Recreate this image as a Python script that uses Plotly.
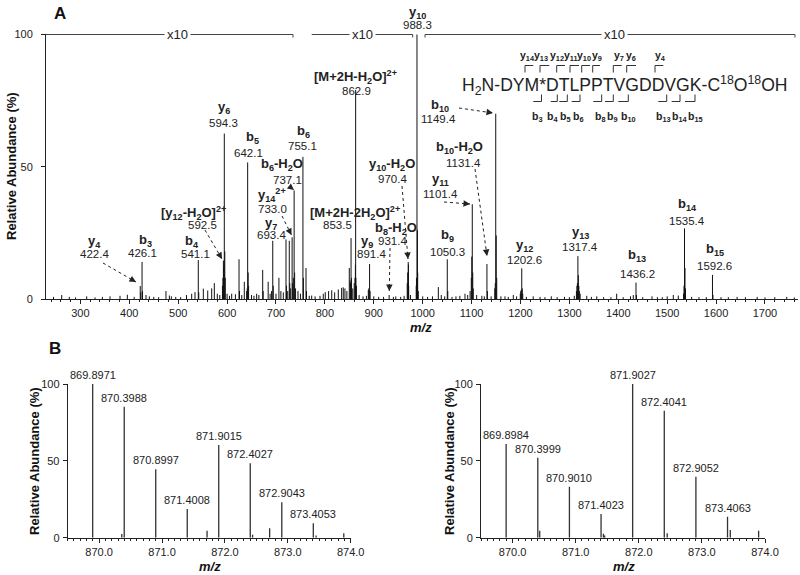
import plotly.graph_objects as go

# ---------------- DATA ----------------
# Panel A: MS/MS spectrum (m/z, displayed relative abundance %)
A_MZ = [245, 261.8, 277.3, 290, 312.9, 330, 345, 360.6, 381, 396, 410,
        422.4, 423.4, 426.1, 427.1, 434.2, 441, 450, 460, 475, 482, 486, 495, 505, 517, 527.6, 534.4,
        541.1, 542.1, 551.4, 560.4, 568.5, 573.9, 580, 585,
        590.5, 591.5, 592.5, 593.3, 594.3, 595.3, 596.3, 600, 605, 609.4, 617, 624.4, 625.4, 630,
        635.2, 640, 641.1, 642.1, 643.1, 644, 650, 655, 660.5, 665, 672.8, 673.8, 684, 688, 691,
        693.4, 694.4, 700, 706, 710, 715, 720.5, 721.5, 724, 727.2, 728.2, 730, 733.0, 734, 735.5,
        737.1, 738.1, 740, 745, 750, 755.1, 756.1, 761.4, 762.4, 768, 773, 780, 790, 796.7, 800.8,
        807.6, 814, 820, 827.4, 834.2, 837.6, 841, 845, 849.9, 851.5, 852.5, 853.5, 854.5, 857, 860,
        861.5, 862.4, 862.9, 863.4, 864.5, 870, 878, 885, 888.8, 889.8, 891.4, 892.4, 900, 910, 920,
        931.4, 940, 945, 955, 962, 968.4, 969.4, 970.4, 970.9, 971.4, 975, 986.8, 987.3, 988.3,
        989.3, 989.8, 991, 1000, 1010, 1020, 1032, 1038, 1045, 1050.3, 1051.3, 1060, 1068, 1076,
        1086.5, 1092, 1097, 1099.4, 1100.4, 1101.4, 1102.4, 1103.4, 1110.4, 1121, 1126, 1131.4,
        1132.4, 1140, 1147.4, 1148.4, 1149.4, 1150.4, 1151.4, 1160, 1168.3, 1175, 1185.3, 1192,
        1199.6, 1200.6, 1201.6, 1202.6, 1203.6, 1204.6, 1212, 1226, 1240, 1250, 1263, 1275, 1290,
        1300, 1310, 1314.4, 1315.4, 1316.4, 1317.4, 1318.4, 1319.4, 1320.4, 1322, 1335.5, 1345,
        1356, 1370, 1385, 1396.7, 1410, 1425, 1430.7, 1436.2, 1437.2, 1450, 1469, 1480, 1490, 1500,
        1512.5, 1522.7, 1533.4, 1534.4, 1535.4, 1536.4, 1537.4, 1550, 1565, 1580, 1592.6, 1593.6,
        1610, 1625, 1643, 1660, 1684, 1700, 1720, 1744.5, 1760]
A_INT = [0.8, 1.5, 0.8, 0.6, 1.0, 0.6, 0.8, 1.0, 1.2, 1.6, 0.8,
         4.9, 2.5, 14.0, 3.0, 1.5, 1.0, 0.8, 0.7, 3.0, 1.3, 1.0, 0.8, 0.7, 1.5, 2.0, 2.6,
         14.7, 2.5, 3.9, 3.2, 4.0, 6.0, 2.0, 1.5,
         5, 8, 14.5, 12, 62.5, 18, 8, 2, 1.2, 2.0, 1.8, 15.0, 3, 1.5,
         6.5, 3, 4, 51.6, 10, 5, 1.5, 1.2, 2.0, 1.5, 11.0, 3, 6.5, 2, 3,
         22, 5, 2, 8, 3, 2.5, 22.5, 5, 3, 22, 6, 4, 23.3, 6, 8,
         41, 10, 4, 3, 2, 53.7, 8, 11.7, 3, 1.2, 1.3, 1, 1.2, 2, 2.6,
         3, 3.3, 2.5, 3.6, 4.2, 4.4, 4, 3, 11.7, 7, 6, 23, 8, 4, 6,
         8, 13, 79, 8, 5, 1.5, 1, 1.2, 3.4, 4, 13.2, 3, 1, 0.8, 0.8,
         1.5, 0.8, 1.0, 0.8, 1.2, 6, 10, 14, 13, 5, 1.5, 5, 8, 100,
         26, 10, 3, 1, 0.8, 1, 4.5, 1.5, 1, 15, 3, 0.8, 1, 1.2,
         2, 1.5, 3, 8, 16, 35.8, 10, 4, 1.5, 1.2, 1, 13.2,
         3, 1, 4, 6, 70, 24, 8, 1, 1, 0.8, 1.5, 1,
         2, 3, 3.5, 11.6, 4, 2, 0.8, 1, 0.8, 0.7, 1, 0.7, 0.8,
         0.7, 1.2, 3, 5, 6, 16.2, 9, 5, 3, 2, 1.2, 0.8,
         1, 0.7, 0.7, 2, 0.7, 1.0, 1.5, 6.2, 1.5, 0.7, 1, 0.7, 0.7, 1,
         1.5, 1.3, 2, 5, 26.7, 11.7, 4, 0.8, 0.7, 0.7, 9.1, 1.5,
         0.7, 0.7, 0.8, 0.7, 0.8, 0.6, 0.7, 0.8, 0.6]

A_XTICKS = [300, 400, 500, 600, 700, 800, 900, 1000, 1100, 1200, 1300, 1400, 1500, 1600, 1700]
Y_TICKS = [0, 50, 100]

# Panel A peak labels: (ion name, m/z text)
A_LABELS = [
    ("y<sub>4</sub>", "422.4"), ("b<sub>3</sub>", "426.1"), ("b<sub>4</sub>", "541.1"),
    ("[y<sub>12</sub>-H<sub>2</sub>O]<sup>2+</sup>", "592.5"), ("y<sub>6</sub>", "594.3"),
    ("b<sub>5</sub>", "642.1"), ("y<sub>7</sub>", "693.4"), ("y<sub>14</sub><sup>2+</sup>", "733.0"),
    ("b<sub>6</sub>-H<sub>2</sub>O", "737.1"), ("b<sub>6</sub>", "755.1"),
    ("[M+2H-2H<sub>2</sub>O]<sup>2+</sup>", "853.5"), ("[M+2H-H<sub>2</sub>O]<sup>2+</sup>", "862.9"),
    ("y<sub>9</sub>", "891.4"), ("b<sub>8</sub>-H<sub>2</sub>O", "931.4"),
    ("y<sub>10</sub>-H<sub>2</sub>O", "970.4"), ("y<sub>10</sub>", "988.3"),
    ("b<sub>9</sub>", "1050.3"), ("y<sub>11</sub>", "1101.4"), ("b<sub>10</sub>-H<sub>2</sub>O", "1131.4"),
    ("b<sub>10</sub>", "1149.4"), ("y<sub>12</sub>", "1202.6"), ("y<sub>13</sub>", "1317.4"),
    ("b<sub>13</sub>", "1436.2"), ("b<sub>14</sub>", "1535.4"), ("b<sub>15</sub>", "1592.6"),
]
SEQUENCE = "H<sub>2</sub>N-DYM*DTLPPTVGDDVGK-C<sup>18</sup>O<sup>18</sup>OH"
Y_IONS = ["14", "13", "12", "11", "10", "9", "7", "6", "4"]
B_IONS = ["3", "4", "5", "6", "8", "9", "10", "13", "14", "15"]

# Panel B: isotope clusters
BL_MZ = [869.8971, 870.36, 870.3988, 870.8997, 871.4008, 871.716, 871.9015, 872.4027, 872.44,
         872.711, 872.9043, 873.4053, 873.45, 873.89]
BL_INT = [100, 2.4, 85.2, 44.5, 18.7, 4.6, 60.3, 48.4, 2.0, 6.1, 23.0, 9.4, 1.5, 2.9]
BL_LAB = ["869.8971", "870.3988", "870.8997", "871.4008", "871.9015", "872.4027", "872.9043", "873.4053"]

BR_MZ = [869.8984, 870.3999, 870.43, 870.9010, 871.4023, 871.44, 871.46, 871.9027, 872.4041, 872.45,
         872.9052, 873.4063, 873.45, 873.899]
BR_INT = [61.0, 52.0, 4.6, 33.2, 15.4, 2.5, 1.5, 100, 82.6, 2.9, 39.7, 13.7, 5.0, 4.6]
BR_LAB = ["869.8984", "870.3999", "870.9010", "871.4023", "871.9027", "872.4041", "872.9052", "873.4063"]
B_XTICKS = [870.0, 871.0, 872.0, 873.0, 874.0]

# ---------------- LAYOUT HELPERS ----------------
W, H = 800, 575
FONT = "Liberation Sans, Arial, sans-serif"
TXT = "#222222"


def P(x, y):
    return x / W, 1 - y / H


def sticks(mz, inten):
    xs, ys = [], []
    for m, v in zip(mz, inten):
        xs += [m, m, None]
        ys += [0, v, None]
    return xs, ys


fig = go.Figure()
ax, ay = sticks(A_MZ, A_INT)
fig.add_trace(go.Scatter(x=ax, y=ay, mode="lines", line=dict(color="#111111", width=1),
                         xaxis="x", yaxis="y", hoverinfo="skip", showlegend=False))
bx, by = sticks(BL_MZ, BL_INT)
fig.add_trace(go.Scatter(x=bx, y=by, mode="lines", line=dict(color="#333333", width=1.3),
                         xaxis="x2", yaxis="y2", hoverinfo="skip", showlegend=False))
cx, cy = sticks(BR_MZ, BR_INT)
fig.add_trace(go.Scatter(x=cx, y=cy, mode="lines", line=dict(color="#333333", width=1.3),
                         xaxis="x3", yaxis="y3", hoverinfo="skip", showlegend=False))


def top_labels(mzs, ints, labels, xa, ya):
    out = []
    for lab in labels:
        m = float(lab)
        i = min(range(len(mzs)), key=lambda k: abs(mzs[k] - m))
        out.append(dict(x=mzs[i], y=ints[i], xref=xa, yref=ya, text=lab, showarrow=False,
                        yanchor="bottom", xanchor="center", yshift=1,
                        font=dict(size=11, color=TXT, family=FONT)))
    return out


annotations = []
annotations += top_labels(BL_MZ, BL_INT, BL_LAB, "x2", "y2")
annotations += top_labels(BR_MZ, BR_INT, BR_LAB, "x3", "y3")
shapes = []


def text(x, y, s, size=12, bold=False, color=TXT, italic=False, angle=0, anchor="center", bg=None):
    px, py = P(x, y)
    if bold:
        s = "<b>" + s + "</b>"
    if italic:
        s = "<i>" + s + "</i>"
    d = dict(x=px, y=py, xref="paper", yref="paper", text=s, showarrow=False,
             xanchor=anchor, yanchor="middle", textangle=angle,
             font=dict(size=size, color=color, family=FONT))
    if bg:
        d.update(bgcolor=bg, borderpad=2)
    annotations.append(d)


def line(x0, y0, x1, y1, dash=None, width=1, color="#222222"):
    a, b = P(x0, y0)
    c, d = P(x1, y1)
    ln = dict(color=color, width=width)
    if dash:
        ln["dash"] = dash
    shapes.append(dict(type="line", xref="paper", yref="paper", x0=a, y0=b, x1=c, y1=d, line=ln))


def arrow(x0, y0, x1, y1):
    line(x0, y0, x1, y1, dash="dot")
    L = ((x1 - x0) ** 2 + (y1 - y0) ** 2) ** 0.5
    px, py = P(x1, y1)
    annotations.append(dict(x=px, y=py, xref="paper", yref="paper", text="", showarrow=True,
                            arrowhead=2, arrowsize=1.3, arrowwidth=1, arrowcolor="#222222",
                            ax=-(x1 - x0) / L * 5, ay=-(y1 - y0) / L * 5, standoff=0))


# panel A label positions (name centre, value centre) in pixels
A_POS = [((94, 241), (94, 254)), ((145, 240), (142, 253)), ((192, 241), (195, 254)),
         ((193, 213), (203, 225)), ((224, 108), (223, 123)),
         ((252, 137), (248, 153)), ((271, 223), (271, 235)), ((272, 195), (272, 209)),
         ((282, 164), (287, 180)), ((303, 132), (302, 146)),
         ((355, 213), (337, 225)), ((355, 77), (356, 91)),
         ((367, 241), (371, 254)), ((396, 228), (392, 241)),
         ((392, 164), (392, 179)), ((417, 12), (417, 25)),
         ((447, 236), (447, 252)), ((440, 180), (440, 194)), ((459, 147), (463, 163)),
         ((440, 105), (438, 119)), ((524, 245), (524, 260)), ((580, 232), (580, 247)),
         ((637, 256), (637, 274)), ((687, 205), (687, 221)), ((715, 250), (714, 266))]
for (name, val), ((nx, ny), (vx, vy)) in zip(A_LABELS, A_POS):
    text(nx, ny, name, size=13, bold=True)
    text(vx, vy, val, size=11.5)

# dotted arrows
arrow(103, 263, 136, 282)
arrow(205, 230, 222, 259)
arrow(282, 216, 291.5, 235)
arrow(289, 186, 294, 190)
arrow(390, 248, 389.3, 291)
arrow(402, 186, 408, 259)
arrow(444, 202, 470, 204)
arrow(475, 169, 487, 256)
arrow(459, 108, 493, 113)

# x10 brackets
YB = 34.5
for (x0, x1, xt, t0, t1) in [(46, 293, 177, False, True), (311.7, 412.7, 362, False, True),
                             (425, 795, 614, True, True)]:
    line(x0, YB, x1, YB, width=1, color="#444444")
    if t0:
        line(x0, YB, x0, YB + 3, color="#444444")
    if t1:
        line(x1, YB, x1, YB + 3, color="#444444")
    text(xt, YB + 0.5, "x10", size=13, bg="white")

# sequence with fragment brackets
text(625, 85, SEQUENCE, size=17.6)
Y_BR = [(525, 533.3), (540, 549.3), (556.7, 565), (570, 579), (581.7, 590), (592.7, 600),
        (613.3, 621.7), (626.7, 636), (655, 663.3)]
Y_LX = [527, 541, 557, 571, 584, 597, 619, 631, 660]
for ion, (a, b), lx in zip(Y_IONS, Y_BR, Y_LX):
    line(a, 65.5, b, 65.5, color="#333333")
    line(a, 65.5, a, 72.5, color="#333333")
    text(lx, 56, "y<sub>" + ion + "</sub>", size=10.5, bold=True)
B_BR = [(533.3, 541.5), (550.7, 557.3), (559.3, 567.3), (571.7, 580), (593.3, 601.7),
        (605, 613.3), (618.3, 628.3), (658.3, 666.7), (671.7, 680), (685, 695)]
B_LX = [537, 552.5, 565, 578.5, 600, 612.5, 628, 663, 680, 695]
for ion, (a, b), lx in zip(B_IONS, B_BR, B_LX):
    line(a, 101.5, b, 101.5, color="#333333")
    line(b, 101.5, b, 94.5, color="#333333")
    text(lx, 117, "b<sub>" + ion + "</sub>", size=10.5, bold=True)

# panel letters & axis titles
text(60, 14, "A", size=17, bold=True, color="#111111")
text(55, 348, "B", size=17, bold=True, color="#111111")
text(11, 166, "Relative Abundance (%)", size=13, bold=True, angle=-90, color="#111111")
text(34, 461, "Relative Abundance (%)", size=13, bold=True, angle=-90, color="#111111")
text(449, 461, "Relative Abundance (%)", size=13, bold=True, angle=-90, color="#111111")
text(421, 327, "m/z", size=13, bold=True, italic=True, color="#111111")
text(210, 566, "m/z", size=13, bold=True, italic=True, color="#111111")
text(624, 566, "m/z", size=13, bold=True, italic=True, color="#111111")

# ---------------- AXES ----------------
AX = dict(showline=True, linecolor="#222222", linewidth=1, ticks="outside", tickcolor="#222222",
          ticklen=4, showgrid=False, zeroline=False, automargin=False,
          tickfont=dict(size=11, color=TXT, family=FONT))

mzA0 = 594.3 - (224.3 - 46) / 0.489
mzA1 = 594.3 + (798 - 224.3) / 0.489

fig.update_layout(
    template="none",
    width=W, height=H, margin=dict(l=0, r=0, t=0, b=0, autoexpand=False),
    paper_bgcolor="white", plot_bgcolor="white",
    font=dict(family=FONT, color=TXT), showlegend=False,
    xaxis=dict(AX, domain=[46 / W, 798 / W], range=[mzA0, mzA1], tickvals=A_XTICKS, anchor="y",
               minor=dict(dtick=20, tick0=300, ticks="outside", ticklen=2, tickcolor="#222222")),
    yaxis=dict(AX, domain=[1 - 299 / H, 1 - 34.3 / H], range=[0, 100], tickvals=Y_TICKS, anchor="x",
               ticklabelstandoff=6),
    xaxis2=dict(AX, domain=[67.7 / W, 350.7 / W], range=[869.5, 874.0], tickvals=B_XTICKS,
                ticktext=["%.1f" % v for v in B_XTICKS], anchor="y2",
                minor=dict(dtick=0.1, tick0=870, ticks="outside", ticklen=2.5, tickcolor="#222222")),
    yaxis2=dict(AX, domain=[1 - 537.7 / H, 1 - 384 / H], range=[0, 100], tickvals=Y_TICKS, anchor="x2",
                ticklabelstandoff=1),
    xaxis3=dict(AX, domain=[481 / W, 765 / W], range=[869.5, 874.0], tickvals=B_XTICKS,
                ticktext=["%.1f" % v for v in B_XTICKS], anchor="y3",
                minor=dict(dtick=0.1, tick0=870, ticks="outside", ticklen=2.5, tickcolor="#222222")),
    yaxis3=dict(AX, domain=[1 - 537.7 / H, 1 - 384 / H], range=[0, 100], tickvals=Y_TICKS, anchor="x3",
                ticklabelstandoff=1),
    annotations=annotations, shapes=shapes,
)

fig.write_html("out.html", config={"displayModeBar": False},
               post_script="document.body.style.margin='0';document.body.style.overflow='hidden';")
